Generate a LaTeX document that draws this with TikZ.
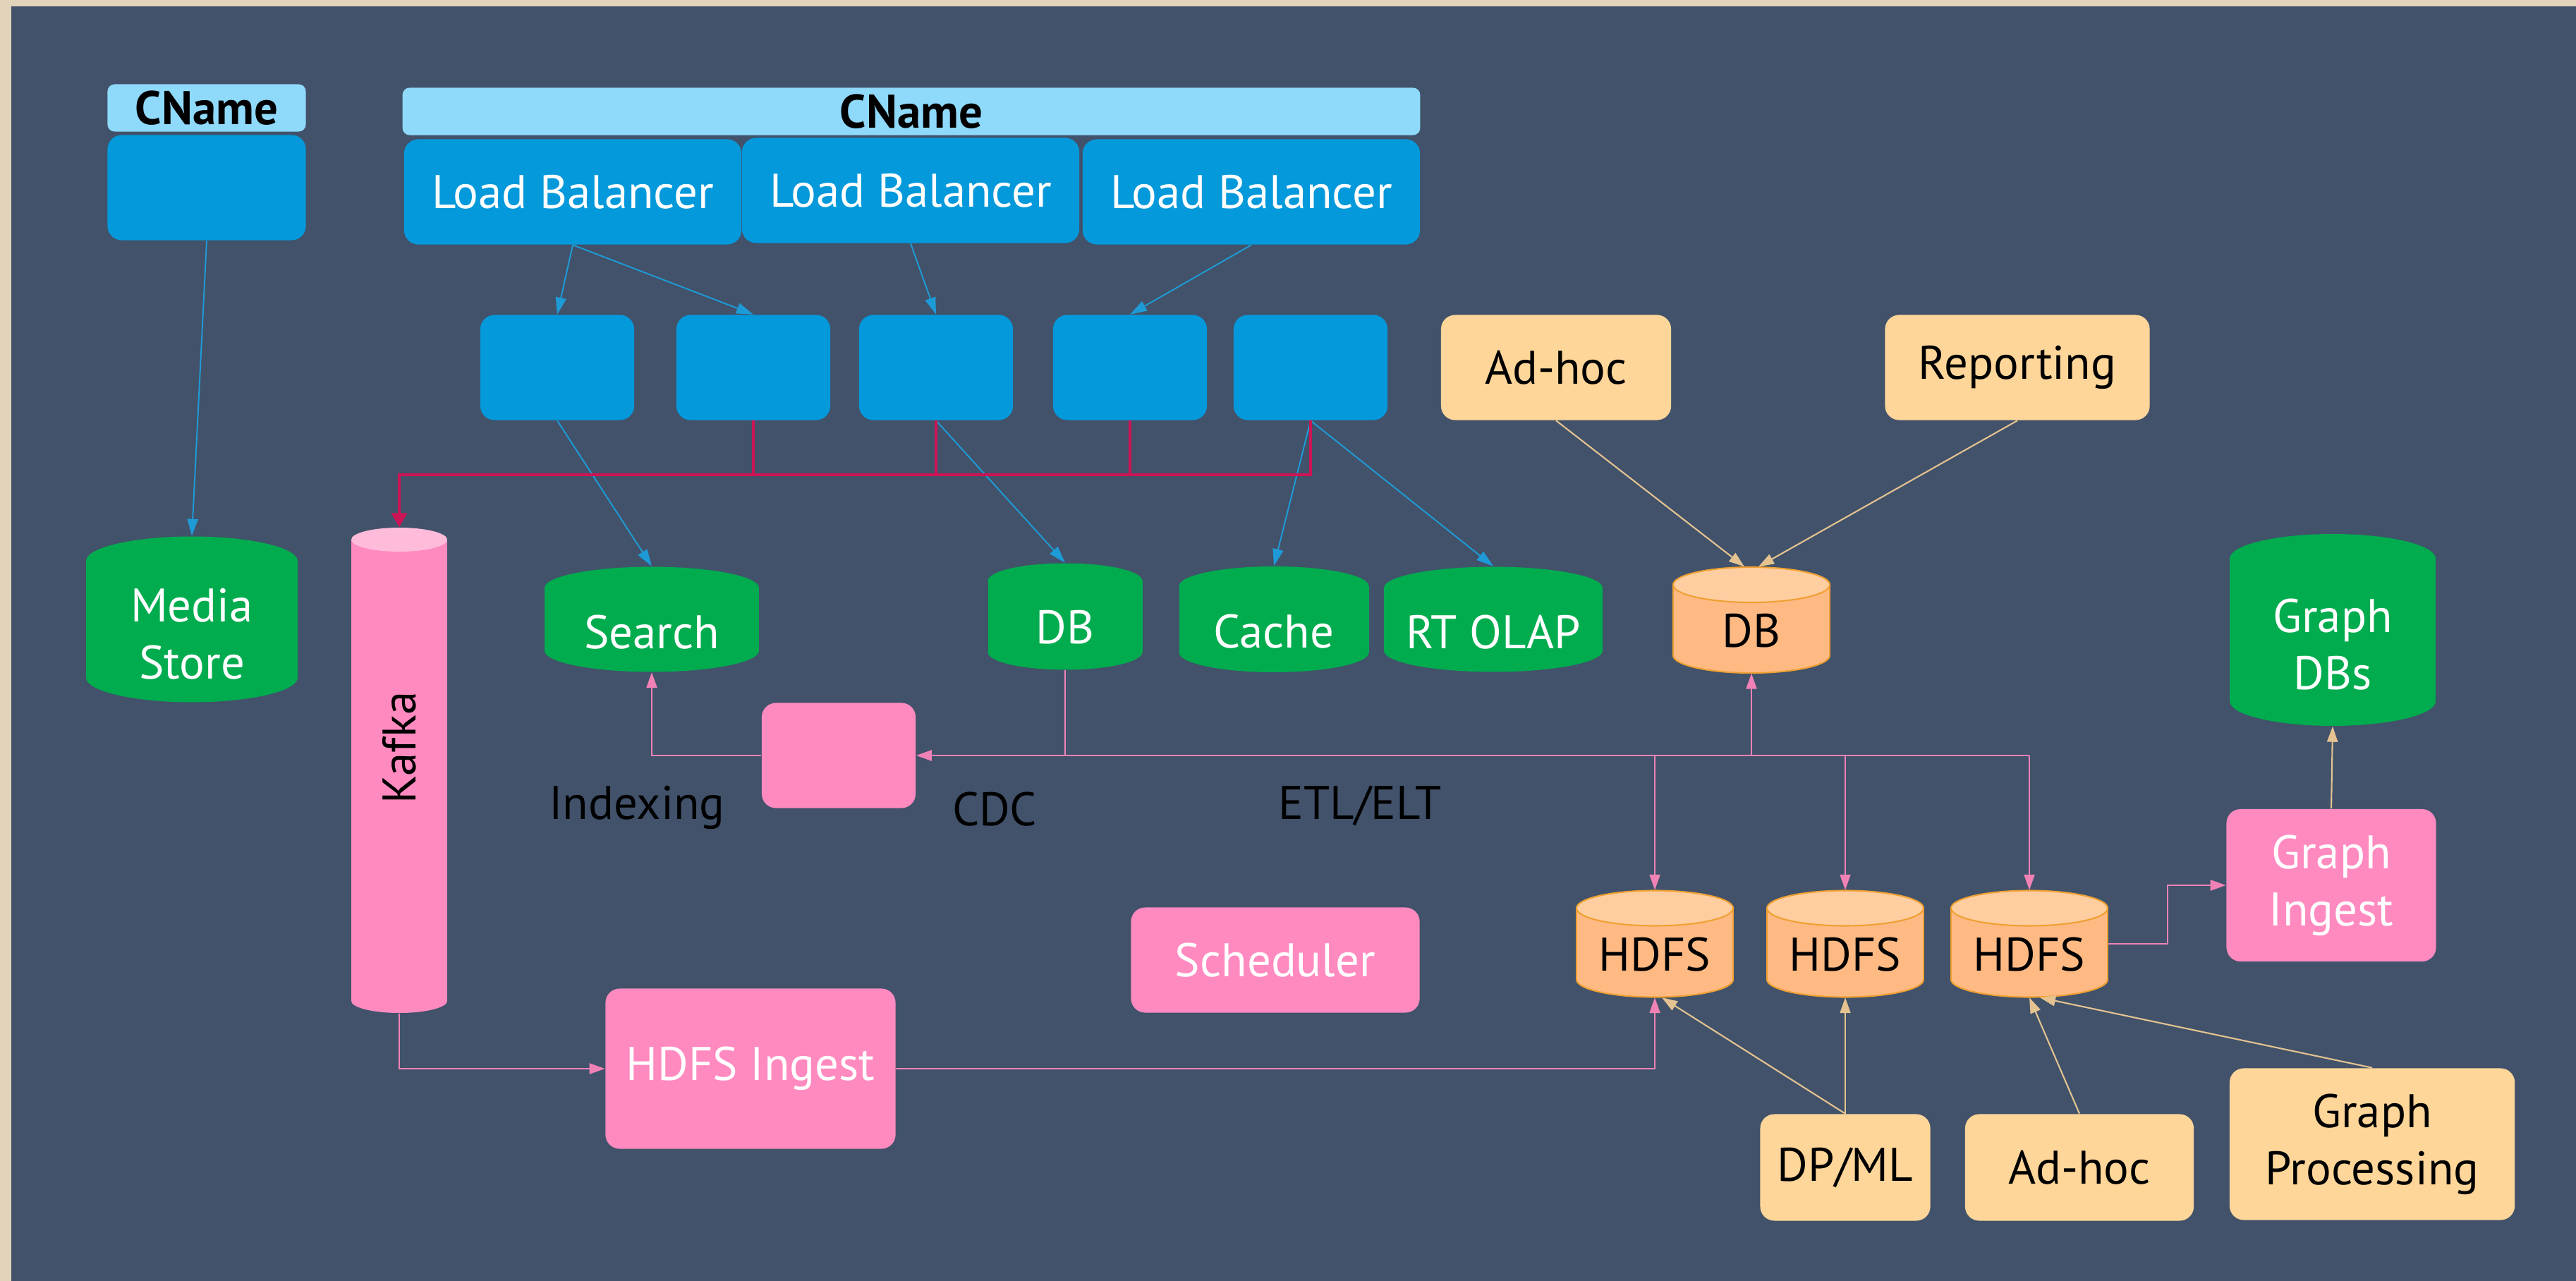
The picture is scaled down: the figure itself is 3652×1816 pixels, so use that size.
\documentclass[tikz,border=0pt]{standalone}
\usepackage{fontspec}
\setmainfont{PT Sans}
\usepackage{tikz}
\usetikzlibrary{arrows.meta}
\definecolor{paper}{RGB}{226,212,186}
\definecolor{panel}{RGB}{65,82,106}
\definecolor{lbblue}{RGB}{4,153,219}
\definecolor{cnblue}{RGB}{143,217,250}
\definecolor{dbgreen}{RGB}{0,172,78}
\definecolor{kpink}{RGB}{255,138,192}
\definecolor{kpinktop}{RGB}{255,188,218}
\definecolor{tan}{RGB}{255,214,153}
\definecolor{hbody}{RGB}{255,186,132}
\definecolor{htop}{RGB}{255,206,160}
\definecolor{hedge}{RGB}{240,160,50}
\definecolor{crimson}{RGB}{205,20,85}
\definecolor{bline}{RGB}{30,155,215}
\definecolor{pline}{RGB}{240,130,182}
\definecolor{tline}{RGB}{228,195,145}

% cylinder: name, x, y, width, height, end radius, kind, text
\newcommand{\can}[8]{%
  \path[#7 body] (#2,#3+#5/2-#6) ellipse [x radius=#4/2, y radius=#6];
  \fill[#7 body, draw=none] (#2-#4/2,#3-#5/2+#6) rectangle (#2+#4/2,#3+#5/2-#6);
  \path[#7 body, fill=none] (#2-#4/2,#3-#5/2+#6) -- (#2-#4/2,#3+#5/2-#6)
    (#2+#4/2,#3-#5/2+#6) -- (#2+#4/2,#3+#5/2-#6);
  \path[#7 top] (#2,#3-#5/2+#6) ellipse [x radius=#4/2, y radius=#6];
  \node[minimum width=#4*0.01cm, minimum height=#5*0.01cm,
    label={[#7 text, yshift=-#6*0.006cm]center:#8}] (#1) at (#2,#3) {};
}

\begin{document}
\begin{tikzpicture}[x=0.01cm,y=-0.01cm,
    every node/.style={font=\fontsize{19}{23}\selectfont, inner sep=0pt, align=center},
    box/.style={rectangle, rounded corners=0.2cm, minimum width=2.18cm, minimum height=1.49cm},
    blubox/.style={box, fill=lbblue, text=white},
    cnbar/.style={rectangle, rounded corners=0.1cm, fill=cnblue, minimum height=0.67cm, font=\fontsize{19}{23}\selectfont\bfseries},
    pinkbox/.style={box, fill=kpink, text=white},
    tanbox/.style={box, fill=tan, text=black},
    green body/.style={fill=dbgreen}, green top/.style={fill=dbgreen}, green text/.style={text=white},
    kafka body/.style={fill=kpink}, kafka top/.style={fill=kpinktop}, kafka text/.style={},
    hdfs body/.style={fill=hbody, draw=hedge, line width=0.6pt},
    hdfs top/.style={fill=htop, draw=hedge, line width=0.6pt}, hdfs text/.style={text=black},
    blink/.style={draw=bline, line width=0.55pt, -{Triangle[length=0.24cm,width=0.15cm]}},
    plink/.style={draw=pline, line width=0.7pt, -{Triangle[length=0.22cm,width=0.15cm]}},
    tlink/.style={draw=tline, line width=0.6pt, -{Triangle[length=0.22cm,width=0.15cm]}},
    busline/.style={draw=crimson, line width=1.1pt}
  ]
\useasboundingbox (0,0) rectangle (3652,1816);
\fill[paper] (0,0) rectangle (3652,1816);
\fill[panel] (16,9) rectangle (3652,1816);

% front end
\node[cnbar, minimum width=2.81cm] (cn1) at (293,153) {CName};
\node[blubox, minimum width=2.81cm] (cnbox) at (293,266) {};
\node[cnbar, minimum width=14.42cm] (cn2) at (1292,158) {CName};
\node[blubox, minimum width=4.78cm] (lb1) at (812,272) {Load Balancer};
\node[blubox, minimum width=4.78cm] (lb2) at (1291,270) {Load Balancer};
\node[blubox, minimum width=4.78cm] (lb3) at (1774,272) {Load Balancer};
\foreach \x [count=\i] in {790,1068,1327,1602,1858}
  \node[blubox] (srv\i) at (\x,521) {};

% stores
\can{media}{272}{878}{300}{235}{35}{green}{Media\\Store}
\can{kafka}{566}{1092}{136}{688}{17}{kafka}{}
\node[rotate=90] (kafkalbl) at (566,1060) {Kafka};
\can{search}{924}{878}{304}{149}{30}{green}{Search}
\can{db}{1510}{874}{219}{151}{25}{green}{DB}
\can{cache}{1806}{878}{269}{150}{28}{green}{Cache}
\can{rtolap}{2117}{878}{310}{149}{30}{green}{RT OLAP}
\can{gdbs}{3307}{893}{292}{272}{35}{green}{Graph\\DBs}

% analytics
\node[tanbox, minimum width=3.26cm] (adhoc1) at (2206,521) {Ad-hoc};
\node[tanbox, minimum width=3.75cm] (report) at (2860,521) {Reporting};
\can{odb}{2483}{879}{222}{150}{25}{hdfs}{DB}
\can{hdfs1}{2346}{1338}{222}{151}{25}{hdfs}{HDFS}
\can{hdfs2}{2616}{1338}{222}{151}{25}{hdfs}{HDFS}
\can{hdfs3}{2877}{1338}{222}{151}{25}{hdfs}{HDFS}
\node[tanbox, minimum width=2.41cm, minimum height=1.51cm] (dpml) at (2616,1655) {DP/ML};
\node[tanbox, minimum width=3.24cm, minimum height=1.51cm] (adhoc2) at (2948,1655) {Ad-hoc};
\node[tanbox, minimum width=4.04cm, minimum height=2.15cm] (gproc) at (3363,1622) {Graph\\Processing};

% pipelines
\node[pinkbox] (cdc) at (1189,1071) {};
\node[pinkbox, minimum width=4.09cm] (sched) at (1808,1361) {Scheduler};
\node[pinkbox, minimum width=4.11cm, minimum height=2.27cm] (ingest) at (1064,1515) {HDFS Ingest};
\node[pinkbox, minimum width=2.97cm, minimum height=2.16cm] (gingest) at (3305,1255) {Graph\\Ingest};
\node[anchor=base] (lidx) at (903,1161) {Indexing};
\node[anchor=base] (lcdc) at (1410,1170) {CDC};
\node[anchor=base] (letl) at (1928,1161) {ETL/ELT};

% blue links
\draw[blink] (cnbox.south) -- (media.north);
\draw[blink] (lb1.south) -- (srv1.north);
\draw[blink] (lb1.south) -- (srv2.north);
\draw[blink] (lb2.south) -- (srv3.north);
\draw[blink] (lb3.south) -- (srv4.north);
\draw[blink] (srv1.south) -- (search.north);
\draw[blink] (srv3.south) -- (db.north);
\draw[blink] (srv5.south) -- (cache.north);
\draw[blink] (srv5.south) -- (rtolap.north);

% event bus
\coordinate (busL) at (566,673);
\foreach \i in {2,3,4}
  \draw[busline] (srv\i.south) -- (srv\i.south |- busL);
\draw[busline, -{Triangle[length=0.2cm,width=0.22cm]}] (srv5.south) |- (busL) -- (kafka.north);

% pink links
\draw[plink] (db.south) |- (cdc.east);
\draw[plink] (cdc.west) -| (search.south);
\draw[draw=pline, line width=0.7pt] (db.south |- cdc.east) -- (hdfs3.north |- cdc.east);
\draw[plink] (odb.south |- cdc.east) -- (odb.south);
\foreach \h in {hdfs1,hdfs2,hdfs3}
  \draw[plink] (\h.north |- cdc.east) -- (\h.north);
\draw[plink] (kafka.south) |- (ingest.west);
\draw[plink] (ingest.east) -| (hdfs1.south);
\draw[plink] (hdfs3.east) -- ++(84,0) |- (gingest.west);

% tan links
\draw[tlink] (adhoc1.south) -- ([xshift=-0.1cm]odb.north);
\draw[tlink] (report.south) -- ([xshift=0.1cm]odb.north);
\draw[tlink] (gingest.north) -- (gdbs.south);
\draw[tlink] (dpml.north) -- ([xshift=0.1cm]hdfs1.south);
\draw[tlink] (dpml.north) -- (hdfs2.south);
\draw[tlink] (adhoc2.north) -- (hdfs3.south);
\draw[tlink] (gproc.north) -- ([xshift=0.15cm]hdfs3.south);
\end{tikzpicture}
\end{document}
